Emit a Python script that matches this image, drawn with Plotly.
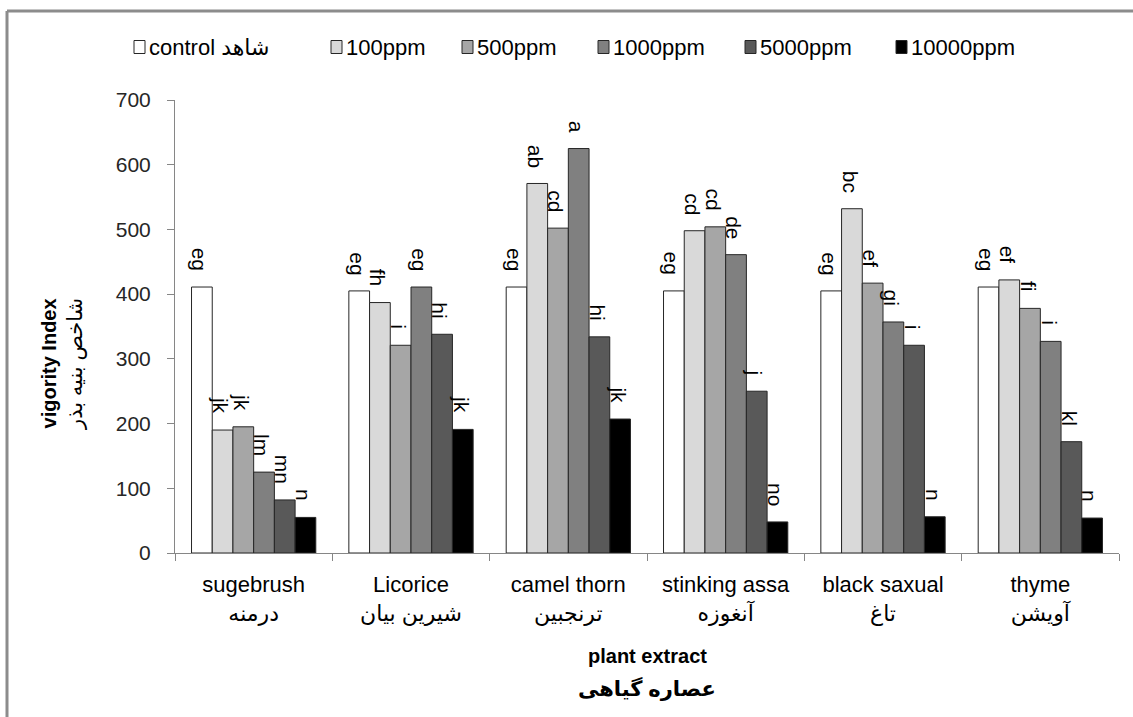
import plotly.graph_objects as go

# Plant extracts (English / Persian) on the category axis
plants_en = ["sugebrush", "Licorice", "camel thorn", "stinking assa", "black saxual", "thyme"]
plants_fa = ["درمنه", "شیرین بیان", "ترنجبین", "آنغوزه", "تاغ", "آویشن"]

# Treatments (legend entries)
treatments = ["control شاهد", "100ppm", "500ppm", "1000ppm", "5000ppm", "10000ppm"]

# Vigority index for each treatment, one value per plant extract
control = [411, 405, 411, 405, 405, 411]
ppm100 = [190, 387, 571, 498, 532, 422]
ppm500 = [195, 321, 502, 504, 417, 378]
ppm1000 = [125, 411, 625, 461, 357, 327]
ppm5000 = [82, 338, 334, 250, 321, 172]
ppm10000 = [55, 191, 207, 48, 56, 54]

# Mean-separation letters above the bars
let_control = ["eg", "eg", "eg", "eg", "eg", "eg"]
let_100 = ["jk", "fh", "ab", "cd", "bc", "ef"]
let_500 = ["jk", "i", "cd", "cd", "ef", "fi"]
let_1000 = ["lm", "eg", "a", "de", "gi", "i"]
let_5000 = ["mn", "hi", "hi", "j", "i", "kl"]
let_10000 = ["n", "jk", "jk", "no", "n", "n"]

y_ticks = [0, 100, 200, 300, 400, 500, 600, 700]

series = [control, ppm100, ppm500, ppm1000, ppm5000, ppm10000]
letters = [let_control, let_100, let_500, let_1000, let_5000, let_10000]
fills = ["#ffffff", "#d9d9d9", "#a6a6a6", "#808080", "#595959", "#000000"]

cat_labels = [f"{en}<br>{fa}" for en, fa in zip(plants_en, plants_fa)]

BAR_GAP = 0.21
FONT = "Liberation Sans, DejaVu Sans, sans-serif"
OUTLINE = "#262626"

fig = go.Figure()
for name, vals, col in zip(treatments, series, fills):
    fig.add_trace(go.Bar(
        name=name, x=cat_labels, y=vals, showlegend=False,
        marker=dict(color=col, line=dict(color=OUTLINE, width=1)),
    ))

# Letters: rotated labels sitting just above each bar
n_series = len(series)
bar_w = (1 - BAR_GAP) / n_series
annotations = []
for j, (vals, labs) in enumerate(zip(series, letters)):
    for i, (v, lab) in enumerate(zip(vals, labs)):
        annotations.append(dict(
            x=i + (j - (n_series - 1) / 2) * bar_w, y=v,
            xref="x", yref="y", text=lab, showarrow=False,
            textangle=90, yanchor="bottom", xanchor="center",
            yshift=14, xshift=-2,
            font=dict(family=FONT, size=21, color="#000000"),
        ))

L, R, T, B = 175, 14, 100, 164
PW, PH = 1133 - L - R, 717 - T - B

def px_to_paper_x(px):
    return (px - L) / PW

def px_to_paper_y(py):
    return (717 - B - py) / PH

# Axis titles
annotations.append(dict(
    x=px_to_paper_x(62), y=px_to_paper_y(364), xref="paper", yref="paper",
    showarrow=False,
    text="<b>vigority Index</b><br><span style='font-size:21px'>شاخص بنیه بذر</span>",
    textangle=-90, xanchor="center", yanchor="middle",
    font=dict(family=FONT, size=20, color="#000000"),
))
annotations.append(dict(
    x=0.5, y=px_to_paper_y(656), xref="paper", yref="paper", showarrow=False,
    text="<b>plant extract</b>", xanchor="center", yanchor="middle",
    font=dict(family=FONT, size=20, color="#000000"),
))
annotations.append(dict(
    x=0.5, y=px_to_paper_y(688), xref="paper", yref="paper", showarrow=False,
    text="<b>عصاره گیاهی</b>", xanchor="center", yanchor="middle",
    font=dict(family=FONT, size=21, color="#000000"),
))

# Frame lines on the top and left edge
shapes = [
    dict(type="line", xref="paper", yref="paper",
         x0=px_to_paper_x(7), x1=px_to_paper_x(1140),
         y0=px_to_paper_y(11), y1=px_to_paper_y(11),
         line=dict(color="#8c8c8c", width=3)),
    dict(type="line", xref="paper", yref="paper",
         x0=px_to_paper_x(7), x1=px_to_paper_x(7),
         y0=px_to_paper_y(11), y1=px_to_paper_y(720),
         line=dict(color="#8c8c8c", width=3)),
]

# Legend row across the top: swatch + label for each treatment
legend_left_px = [134, 331, 462, 598, 745, 896]
LEG_Y = 47
SW, SH = 11, 13
for name, col, lx in zip(treatments, fills, legend_left_px):
    shapes.append(dict(
        type="rect", xref="paper", yref="paper",
        x0=px_to_paper_x(lx), x1=px_to_paper_x(lx + SW),
        y0=px_to_paper_y(LEG_Y + SH / 2), y1=px_to_paper_y(LEG_Y - SH / 2),
        fillcolor=col, line=dict(color=OUTLINE, width=1),
    ))
    annotations.append(dict(
        x=px_to_paper_x(lx + SW + 2), y=px_to_paper_y(LEG_Y),
        xref="paper", yref="paper", showarrow=False,
        text=name, xanchor="left", yanchor="middle",
        font=dict(family=FONT, size=22, color="#000000"),
    ))

fig.update_layout(
    width=1133, height=717,
    margin=dict(l=L, r=R, t=T, b=B, autoexpand=False),
    barmode="group", bargap=BAR_GAP, bargroupgap=0,
    paper_bgcolor="#ffffff", plot_bgcolor="#ffffff",
    font=dict(family=FONT, size=20, color="#262626"),
    showlegend=False,
    xaxis=dict(
        type="category", showline=True, linecolor="#868686", linewidth=1,
        ticks="outside", tickson="boundaries", ticklen=7, tickcolor="#868686",
        showgrid=False, zeroline=False, ticklabelstandoff=12,
        tickfont=dict(family=FONT, size=22, color="#000000"),
    ),
    yaxis=dict(
        range=[0, 700], tickvals=y_ticks, showline=True, linecolor="#868686",
        linewidth=1, ticks="outside", ticklen=7, tickcolor="#868686",
        showgrid=False, zeroline=False, ticklabelstandoff=12,
        tickfont=dict(family=FONT, size=21, color="#262626"),
    ),
    annotations=annotations,
    shapes=shapes,
)

fig.write_html("out.html")
